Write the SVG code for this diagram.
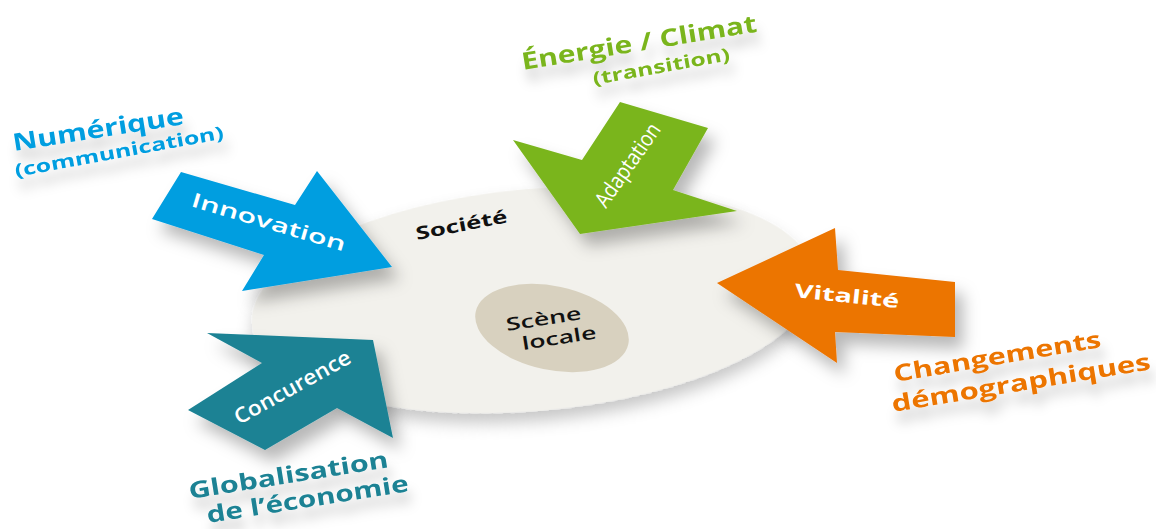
<svg xmlns="http://www.w3.org/2000/svg" width="1156" height="529" viewBox="0 0 1156 529">
<defs>
<filter id="sh" x="-30%" y="-30%" width="160%" height="170%">
<feDropShadow dx="8" dy="12" stdDeviation="8" flood-color="#000" flood-opacity="0.28"/>
</filter>
<filter id="shT" x="-20%" y="-50%" width="140%" height="250%">
<feDropShadow dx="4" dy="12" stdDeviation="6" flood-color="#000" flood-opacity="0.2"/>
</filter>
<filter id="shE" x="-10%" y="-20%" width="120%" height="150%">
<feDropShadow dx="0" dy="10" stdDeviation="8" flood-color="#000" flood-opacity="0.22"/>
</filter>
</defs>
<style>
text{font-family:"Open Sans","Noto Sans","Liberation Sans",sans-serif}
.out{font-weight:700}
.in{fill:#fff}
.blk{fill:#111}
</style>
<rect width="1156" height="529" fill="#fff"/>

<g id="societe">
<ellipse cx="533" cy="300" rx="282" ry="111" transform="rotate(-5 533 300)" fill="#f2f1ec" filter="url(#shE)"/>
<text class="blk" font-weight="700" font-size="18" transform="translate(417,240) rotate(-11)" textLength="93" lengthAdjust="spacingAndGlyphs">Société</text>
</g>

<g id="scene-locale">
<ellipse cx="552" cy="328" rx="78" ry="42" transform="rotate(12 552 328)" fill="#d8d1bf"/>
<text class="blk" font-weight="600" font-size="18" transform="translate(507,331) rotate(-9)" textLength="76" lengthAdjust="spacingAndGlyphs">Scène</text>
<text class="blk" font-weight="600" font-size="18" transform="translate(523,350) rotate(-9)" textLength="75" lengthAdjust="spacingAndGlyphs">locale</text>
</g>

<g id="connectors">
<g id="innovation">
<polygon points="152,219 181,172 295,205 317,171 392,267 242,291 264,255" fill="#009ee0" filter="url(#sh)"/>
<text class="in" font-weight="600" font-size="20" transform="translate(190,206) rotate(16.5)" textLength="160" lengthAdjust="spacingAndGlyphs">Innovation</text>
</g>
<g id="adaptation">
<polygon points="513,140 582,160 620,102 708,128 673,190 737,211 580,234" fill="#7ab51d" filter="url(#sh)"/>
<text class="in" font-weight="500" font-size="22" transform="translate(606,209) rotate(-55)" textLength="97" lengthAdjust="spacingAndGlyphs">Adaptation</text>
</g>
<g id="vitalite">
<polygon points="717,283 835,228 838,270 955,282 955,337 835,332 837,363" fill="#ec7405" filter="url(#sh)"/>
<text class="in" font-weight="700" font-size="19" transform="translate(794,297) rotate(6)" textLength="105" lengthAdjust="spacingAndGlyphs">Vitalité</text>
</g>
<g id="concurence">
<polygon points="207,333 373,340 393,438 337,408 265,450 188,410 262,363" fill="#1b8294" filter="url(#sh)"/>
<text class="in" font-weight="600" font-size="21" transform="translate(239,425) rotate(-29)" textLength="130" lengthAdjust="spacingAndGlyphs">Concurence</text>
</g>
</g>

<g id="numerique" fill="#009ee0" filter="url(#shT)">
<text class="out" font-size="24" transform="translate(14,151) rotate(-9)" textLength="173" lengthAdjust="spacingAndGlyphs">Numérique</text>
<text class="out" font-size="18" transform="translate(16,177) rotate(-10.5)" textLength="212" lengthAdjust="spacingAndGlyphs">(communication)</text>
</g>

<g id="energie" fill="#7ab51d" filter="url(#shT)">
<text class="out" font-size="24" transform="translate(523,70) rotate(-9.3)" textLength="238" lengthAdjust="spacingAndGlyphs">Énergie / Climat</text>
<text class="out" font-size="18" transform="translate(594,85) rotate(-10.3)" textLength="139" lengthAdjust="spacingAndGlyphs">(transition)</text>
</g>

<g id="demographie" fill="#ec7405" filter="url(#shT)">
<text class="out" font-size="23" transform="translate(895,382) rotate(-9.6)" textLength="210" lengthAdjust="spacingAndGlyphs">Changements</text>
<text class="out" font-size="23" transform="translate(893,412) rotate(-9.4)" textLength="262" lengthAdjust="spacingAndGlyphs">démographiques</text>
</g>

<g id="globalisation" fill="#1b8294" filter="url(#shT)">
<text class="out" font-size="23" transform="translate(190,499) rotate(-9.1)" textLength="202" lengthAdjust="spacingAndGlyphs">Globalisation</text>
<text class="out" font-size="23" transform="translate(208,523) rotate(-9)" textLength="204" lengthAdjust="spacingAndGlyphs">de l’économie</text>
</g>
</svg>
